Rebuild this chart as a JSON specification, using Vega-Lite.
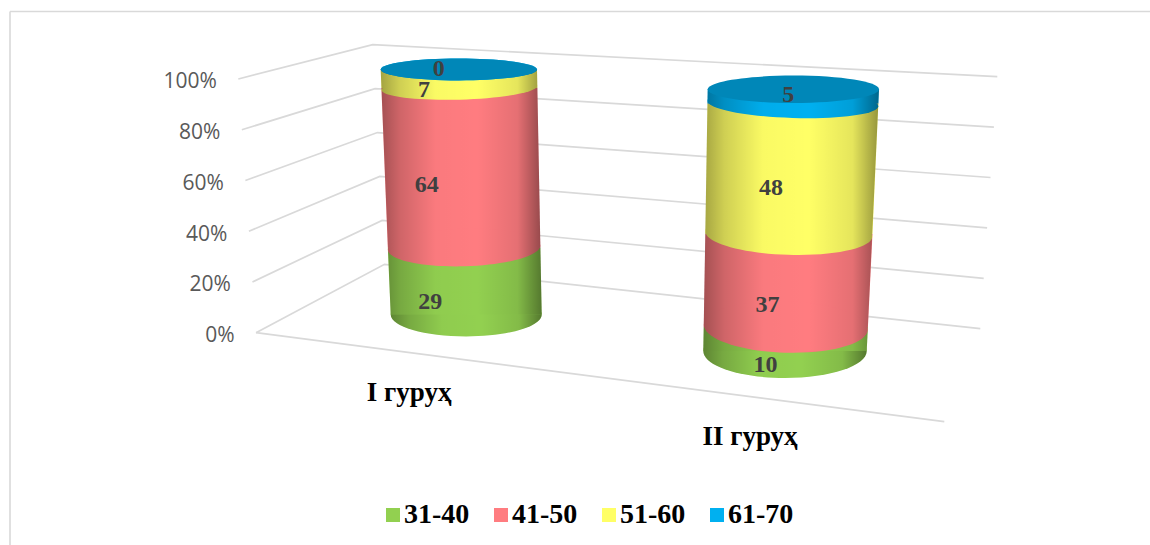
{
  "$schema": "https://vega.github.io/schema/vega-lite/v6.json",
  "width": 1150,
  "height": 545,
  "padding": 0,
  "autosize": {"type": "fit", "contains": "padding"},
  "background": "white",
  "config": {
    "view": {"stroke": null},
    "axis": {"disable": true},
    "range": {"category": ["#92D050", "#FF7C80", "#FFFF66", "#00B0F0"]}
  },
  "datasets": {
    "ages": [
      {"group": "I гуруҳ", "age": "31-40", "value": 29},
      {"group": "I гуруҳ", "age": "41-50", "value": 64},
      {"group": "I гуруҳ", "age": "51-60", "value": 7},
      {"group": "I гуруҳ", "age": "61-70", "value": 0},
      {"group": "II гуруҳ", "age": "31-40", "value": 10},
      {"group": "II гуруҳ", "age": "41-50", "value": 37},
      {"group": "II гуруҳ", "age": "51-60", "value": 48},
      {"group": "II гуруҳ", "age": "61-70", "value": 5}
    ],
    "walls": [
      {"level": 0, "edge": "0", "corner": "left"}, {"level": 0, "edge": "0", "corner": "back"}, {"level": 0, "edge": "0", "corner": "right"},
      {"level": 20, "edge": "20", "corner": "left"}, {"level": 20, "edge": "20", "corner": "back"}, {"level": 20, "edge": "20", "corner": "right"},
      {"level": 40, "edge": "40", "corner": "left"}, {"level": 40, "edge": "40", "corner": "back"}, {"level": 40, "edge": "40", "corner": "right"},
      {"level": 60, "edge": "60", "corner": "left"}, {"level": 60, "edge": "60", "corner": "back"}, {"level": 60, "edge": "60", "corner": "right"},
      {"level": 80, "edge": "80", "corner": "left"}, {"level": 80, "edge": "80", "corner": "back"}, {"level": 80, "edge": "80", "corner": "right"},
      {"level": 100, "edge": "100", "corner": "left"}, {"level": 100, "edge": "100", "corner": "back"}, {"level": 100, "edge": "100", "corner": "right"},
      {"level": 0, "edge": "floor", "corner": "left"}, {"level": 0, "edge": "floor", "corner": "front"}
    ]
  },
  "data": {"values": [{"frame": "outline"}]},
  "encoding": {
    "x": {"field": "sx", "type": "quantitative", "stack": null, "scale": {"domain": [0, 1150], "range": [0, 1150]}},
    "y": {"field": "sy", "type": "quantitative", "stack": null, "scale": {"domain": [0, 545], "range": [0, 545]}}
  },
  "layer": [
    {
      "transform": [
        {"calculate": "10", "as": "sx"},
        {"calculate": "11.5", "as": "sy"}
      ],
      "layer": [
        {
          "mark": {"type": "rule", "color": "#D9D9D9", "strokeWidth": 1.6},
          "encoding": {"y2": {"datum": 545}}
        },
        {
          "mark": {"type": "rule", "color": "#D9D9D9", "strokeWidth": 1.6},
          "encoding": {"x2": {"datum": 1150}}
        }
      ]
    },
    {
      "data": {"name": "walls"},
      "transform": [
        {"calculate": "datum.corner == 'left' ? 256 - 0.177 * datum.level : datum.corner == 'back' ? 384.5 - 0.118 * datum.level : datum.corner == 'right' ? 980.3 + 0.17 * datum.level : 944.3", "as": "sx"},
        {"calculate": "datum.corner == 'left' ? 332.7 - 2.537 * datum.level : datum.corner == 'back' ? 264.3 - 2.196 * datum.level : datum.corner == 'right' ? 328.7 - 2.52 * datum.level : 421.7", "as": "sy"},
        {"calculate": "datum.level + '%'", "as": "tick"}
      ],
      "layer": [
        {
          "mark": {"type": "line", "color": "#D9D9D9", "strokeWidth": 1.7},
          "encoding": {"detail": {"field": "edge"}}
        },
        {
          "transform": [{"filter": "datum.corner == 'left' && datum.edge != 'floor'"}],
          "mark": {"type": "text", "align": "right", "baseline": "middle", "font": "Open Sans", "fontSize": 21, "color": "#595959", "xOffset": -21.5, "yOffset": 3.3},
          "encoding": {"text": {"field": "tick"}}
        }
      ]
    },
    {
      "data": {"name": "ages"},
      "transform": [
        {"stack": "value", "groupby": ["group"], "sort": [{"field": "age", "order": "ascending"}], "as": ["start", "end"]},
        {"calculate": "(datum.start + datum.end) / 2", "as": "mid"},
        {"fold": ["start", "end", "mid"], "as": ["key", "level"]},
        {"calculate": "datum.group == 'I гуруҳ'", "as": "first"},
        {"calculate": "datum.first ? 390.7 - 0.10 * datum.level : 703.3 + 0.044 * datum.level", "as": "sx"},
        {"calculate": "datum.first ? 541.7 - 0.047 * datum.level : 866.7 + 0.123 * datum.level", "as": "xr"},
        {"calculate": "datum.first ? 314.5 - 2.253 * datum.level - 0.00197 * datum.level * datum.level : 351 - 2.377 * datum.level - 0.0024 * datum.level * datum.level", "as": "sy"},
        {"calculate": "(datum.sx + datum.xr) / 2", "as": "xc"},
        {"calculate": "pow(datum.xr - datum.sx, 2)", "as": "span"},
        {"calculate": "datum.first ? 0.29 - 0.0015 * datum.level : 0.33 - 0.0017 * datum.level", "as": "squash"},
        {"calculate": "'M-1,0A1,' + datum.squash + ',0,1,1,1,0A1,' + datum.squash + ',0,1,1,-1,0Z'", "as": "disc"},
        {"calculate": "'M-1,0A1,' + datum.squash + ',0,0,0,1,0Z'", "as": "rim"},
        {"calculate": "datum.level == 0 || datum.level == 100 ? 0 : datum.first ? -1.6 : 1.8", "as": "tilt"}
      ],
      "layer": [
        {
          "transform": [{"filter": "datum.key != 'mid'"}],
          "mark": {"type": "area", "orient": "horizontal"},
          "encoding": {
            "x2": {"field": "xr"},
            "detail": {"field": "group"},
            "color": {
              "field": "age",
              "type": "nominal",
              "legend": {
                "title": null,
                "orient": "none",
                "direction": "horizontal",
                "columns": 4,
                "gridAlign": "all",
                "legendX": 379,
                "legendY": 501,
                "symbolType": "square",
                "symbolSize": 196,
                "symbolStrokeWidth": 0,
                "labelFont": "Liberation Serif",
                "labelFontWeight": "bold",
                "labelFontSize": 28,
                "labelColor": "#000000",
                "labelOffset": -3,
                "columnPadding": 17
              }
            }
          }
        },
        {
          "transform": [{"filter": "datum.key == 'start'"}],
          "mark": {"type": "point", "filled": true, "opacity": 1},
          "encoding": {
            "x": {"field": "xc", "type": "quantitative"},
            "size": {"field": "span", "type": "quantitative", "scale": null},
            "shape": {"field": "disc", "type": "nominal", "scale": null},
            "angle": {"field": "tilt", "type": "quantitative", "scale": null},
            "color": {"field": "age", "type": "nominal", "legend": null}
          }
        },
        {
          "transform": [{"filter": "datum.key != 'mid' && (datum.level == 0 || datum.level == 100)"}],
          "mark": {
            "type": "area",
            "orient": "horizontal",
            "fill": {
              "gradient": "linear",
              "x1": 0, "x2": 1, "y1": 0, "y2": 0,
              "stops": [
                {"offset": 0, "color": "rgba(0,0,0,0.36)"},
                {"offset": 0.12, "color": "rgba(0,0,0,0.19)"},
                {"offset": 0.34, "color": "rgba(0,0,0,0.02)"},
                {"offset": 0.6, "color": "rgba(0,0,0,0)"},
                {"offset": 0.85, "color": "rgba(0,0,0,0.1)"},
                {"offset": 1, "color": "rgba(0,0,0,0.42)"}
              ]
            }
          },
          "encoding": {"x2": {"field": "xr"}, "detail": {"field": "group"}}
        },
        {
          "transform": [{"filter": "datum.key == 'start' && datum.level == 0"}],
          "mark": {
            "type": "point",
            "filled": true,
            "opacity": 1,
            "fill": {
              "gradient": "linear",
              "x1": 0, "x2": 1, "y1": 0, "y2": 0,
              "stops": [
                {"offset": 0, "color": "rgba(0,0,0,0.36)"},
                {"offset": 0.12, "color": "rgba(0,0,0,0.19)"},
                {"offset": 0.34, "color": "rgba(0,0,0,0.02)"},
                {"offset": 0.6, "color": "rgba(0,0,0,0)"},
                {"offset": 0.85, "color": "rgba(0,0,0,0.1)"},
                {"offset": 1, "color": "rgba(0,0,0,0.42)"}
              ]
            }
          },
          "encoding": {
            "x": {"field": "xc", "type": "quantitative"},
            "size": {"field": "span", "type": "quantitative", "scale": null},
            "shape": {"field": "rim", "type": "nominal", "scale": null},
            "angle": {"field": "tilt", "type": "quantitative", "scale": null}
          }
        },
        {
          "transform": [{"filter": "datum.key == 'end' && datum.age == '61-70'"}],
          "mark": {"type": "point", "filled": true, "opacity": 1, "fill": "#0087B8"},
          "encoding": {
            "x": {"field": "xc", "type": "quantitative"},
            "size": {"field": "span", "type": "quantitative", "scale": null},
            "shape": {"field": "disc", "type": "nominal", "scale": null}
          }
        },
        {
          "transform": [
            {"filter": "datum.key == 'mid'"},
            {"calculate": "datum.xc + (datum.first ? -35 : -20) + (datum.age == '61-70' ? 15 : 0)", "as": "lx"},
            {"calculate": "datum.age == '61-70' ? datum.sy - 1 : datum.sy + datum.squash * (datum.xr - datum.sx) / 2", "as": "ly"}
          ],
          "mark": {"type": "text", "font": "Liberation Serif", "fontWeight": "bold", "fontSize": 24, "color": "#404040", "baseline": "middle"},
          "encoding": {
            "x": {"field": "lx", "type": "quantitative"},
            "y": {"field": "ly", "type": "quantitative"},
            "text": {"field": "value", "type": "quantitative"}
          }
        },
        {
          "transform": [
            {"filter": "datum.key == 'start' && datum.age == '31-40'"},
            {"calculate": "datum.xc + (datum.first ? -57 : -35)", "as": "lx"},
            {"calculate": "datum.sy + (datum.first ? 78 : 86)", "as": "ly"}
          ],
          "mark": {"type": "text", "font": "Liberation Serif", "fontWeight": "bold", "fontSize": 27, "color": "#000000", "baseline": "middle"},
          "encoding": {
            "x": {"field": "lx", "type": "quantitative"},
            "y": {"field": "ly", "type": "quantitative"},
            "text": {"field": "group", "type": "nominal"}
          }
        }
      ]
    }
  ]
}
